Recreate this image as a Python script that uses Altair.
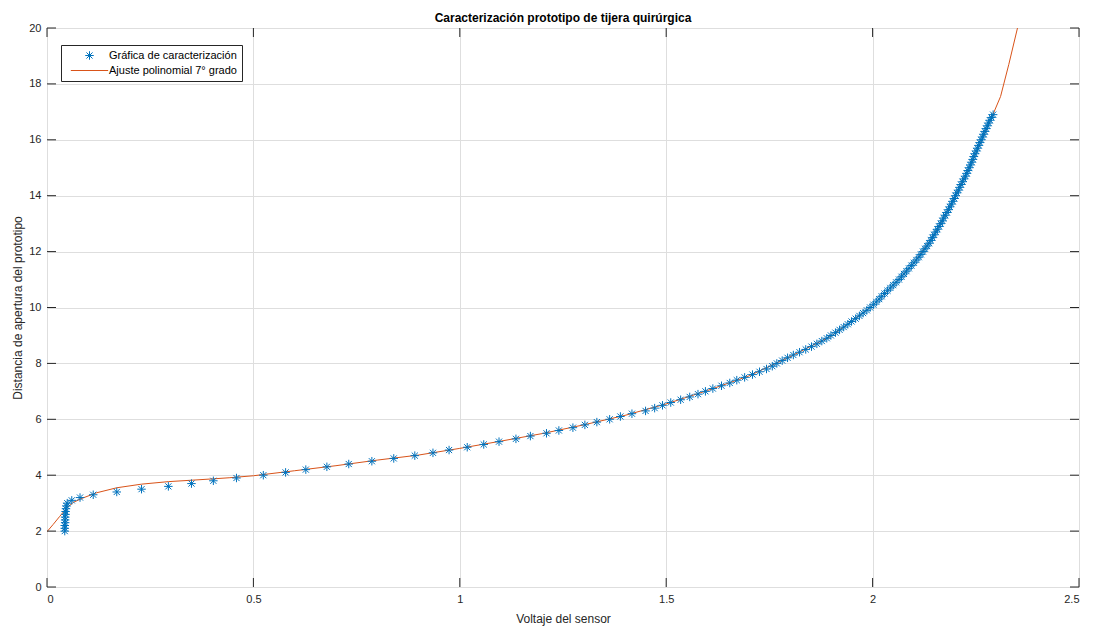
import altair as alt
import pandas as pd

# ---- data ----
sensor_v = [
    0.043, 0.043, 0.043, 0.044, 0.044, 0.044, 0.045, 0.045, 0.046, 0.047,
    0.049, 0.060, 0.080, 0.112, 0.169, 0.229, 0.294, 0.350, 0.403, 0.459,
    0.524, 0.578, 0.627, 0.678, 0.731, 0.787, 0.840, 0.891, 0.935, 0.974,
    1.018, 1.058, 1.095, 1.136, 1.171, 1.210, 1.240, 1.274, 1.303, 1.332,
    1.363, 1.389, 1.417, 1.450, 1.472, 1.491, 1.511, 1.535, 1.557, 1.577,
    1.595, 1.613, 1.634, 1.654, 1.671, 1.690, 1.709, 1.726, 1.743, 1.757,
    1.768, 1.781, 1.794, 1.808, 1.823, 1.838, 1.852, 1.865, 1.877, 1.889,
    1.899, 1.910, 1.920, 1.930, 1.940, 1.949, 1.959, 1.968, 1.977, 1.986,
    1.994, 2.002, 2.009, 2.016, 2.022, 2.029, 2.036, 2.043, 2.050, 2.057,
    2.064, 2.070, 2.076, 2.082, 2.088, 2.094, 2.100, 2.106, 2.112, 2.117,
    2.122, 2.127, 2.132, 2.137, 2.141, 2.145, 2.149, 2.153, 2.157, 2.161,
    2.165, 2.169, 2.172, 2.176, 2.180, 2.184, 2.187, 2.191, 2.194, 2.198,
    2.201, 2.204, 2.208, 2.211, 2.214, 2.218, 2.221, 2.225, 2.228, 2.231,
    2.234, 2.237, 2.240, 2.243, 2.245, 2.248, 2.251, 2.254, 2.257, 2.260,
    2.263, 2.266, 2.269, 2.272, 2.275, 2.278, 2.281, 2.284, 2.288, 2.292,
]
apertura = [
    2.0, 2.1, 2.2, 2.3, 2.4, 2.5, 2.6, 2.7, 2.8, 2.9,
    3.0, 3.1, 3.2, 3.3, 3.4, 3.5, 3.6, 3.7, 3.8, 3.9,
    4.0, 4.1, 4.2, 4.3, 4.4, 4.5, 4.6, 4.7, 4.8, 4.9,
    5.0, 5.1, 5.2, 5.3, 5.4, 5.5, 5.6, 5.7, 5.8, 5.9,
    6.0, 6.1, 6.2, 6.3, 6.4, 6.5, 6.6, 6.7, 6.8, 6.9,
    7.0, 7.1, 7.2, 7.3, 7.4, 7.5, 7.6, 7.7, 7.8, 7.9,
    8.0, 8.1, 8.2, 8.3, 8.4, 8.5, 8.6, 8.7, 8.8, 8.9,
    9.0, 9.1, 9.2, 9.3, 9.4, 9.5, 9.6, 9.7, 9.8, 9.9,
    10.0, 10.1, 10.2, 10.3, 10.4, 10.5, 10.6, 10.7, 10.8, 10.9,
    11.0, 11.1, 11.2, 11.3, 11.4, 11.5, 11.6, 11.7, 11.8, 11.9,
    12.0, 12.1, 12.2, 12.3, 12.4, 12.5, 12.6, 12.7, 12.8, 12.9,
    13.0, 13.1, 13.2, 13.3, 13.4, 13.5, 13.6, 13.7, 13.8, 13.9,
    14.0, 14.1, 14.2, 14.3, 14.4, 14.5, 14.6, 14.7, 14.8, 14.9,
    15.0, 15.1, 15.2, 15.3, 15.4, 15.5, 15.6, 15.7, 15.8, 15.9,
    16.0, 16.1, 16.2, 16.3, 16.4, 16.5, 16.6, 16.7, 16.8, 16.9,
]

fit_v = [0.0, 0.015, 0.031, 0.048, 0.064, 0.088, 0.120, 0.169, 0.229, 0.294,
         0.350, 0.403, 0.443, 0.5, 0.6, 0.7, 0.8, 0.9, 1.0, 1.1, 1.2, 1.3,
         1.4, 1.5, 1.6, 1.7, 1.8, 1.9, 2.0, 2.05, 2.1, 2.15, 2.2, 2.25,
         2.29, 2.31, 2.33, 2.351]
fit_d = [1.98, 2.24, 2.53, 2.83, 3.03, 3.19, 3.37, 3.55, 3.68, 3.77,
         3.82, 3.87, 3.91, 3.98, 4.16, 4.34, 4.54, 4.72, 4.96, 5.22, 5.49, 5.80,
         6.14, 6.55, 7.03, 7.55, 8.24, 8.98, 10.07, 10.80, 11.60, 12.62, 13.97, 15.50,
         16.85, 17.55, 18.70, 20.0]

x_ticks = [0, 0.5, 1, 1.5, 2, 2.5]
y_ticks = [0, 2, 4, 6, 8, 10, 12, 14, 16, 18, 20]

S1 = "Gráfica de caracterización"
S2 = "Ajuste polinomial 7° grado"

pts = pd.DataFrame({"v": sensor_v, "d": apertura, "serie": S1})
fit = pd.DataFrame({"v": fit_v, "d": fit_d, "serie": S2})
xt = pd.DataFrame({"t": x_ticks})
yt = pd.DataFrame({"t": y_ticks})

W, H = 1032, 559
TXT = "#262626"
FONT = "Liberation Sans"
TL = 9

ASTER = "M-1,0L1,0M0,-1L0,1M-0.72,-0.72L0.72,0.72M-0.72,0.72L0.72,-0.72"
LINESYM = "M-4.4,0L4.4,0"

xscale = alt.Scale(domain=[0, 2.5], nice=False, zero=False)
yscale = alt.Scale(domain=[0, 20], nice=False, zero=False)

xaxis = alt.Axis(values=x_ticks, title="Voltaje del sensor", grid=True,
                 gridColor="#dedede", gridWidth=1, ticks=False, domain=False,
                 labelExpr="'' + datum.value", labelFontSize=11, labelColor=TXT,
                 labelFont=FONT, labelPadding=6, titleFont=FONT, titleFontSize=12,
                 titleFontWeight="normal", titleColor=TXT, titlePadding=9)
yaxis = alt.Axis(values=y_ticks, title="Distancia de apertura del prototipo", grid=True,
                 gridColor="#dedede", gridWidth=1, ticks=False, domain=False,
                 labelExpr="'' + datum.value", labelFontSize=11, labelColor=TXT,
                 labelFont=FONT, labelPadding=6, titleFont=FONT, titleFontSize=12,
                 titleFontWeight="normal", titleColor=TXT, titlePadding=4)

legend = alt.Legend(title=None, orient="none", legendX=14, legendY=17,
                    labelFont=FONT, labelFontSize=11, labelColor="#000000",
                    strokeColor=TXT, fillColor="white", padding=5,
                    rowPadding=2, symbolSize=72, symbolStrokeWidth=1,
                    symbolOffset=18, labelOffset=14, labelLimit=400)

color = alt.Color("serie:N", scale=alt.Scale(domain=[S1, S2], range=["#0072BD", "#D95319"]),
                  legend=legend)
shape = alt.Shape("serie:N", scale=alt.Scale(domain=[S1, S2], range=[ASTER, LINESYM]),
                  legend=legend)

line = alt.Chart(fit).mark_line(strokeWidth=1, clip=True).encode(
    x=alt.X("v:Q", scale=xscale, axis=xaxis),
    y=alt.Y("d:Q", scale=yscale, axis=yaxis),
    color=color,
)

points = alt.Chart(pts).mark_point(filled=False, strokeWidth=1, size=72, opacity=1).encode(
    x=alt.X("v:Q", scale=xscale, axis=xaxis),
    y=alt.Y("d:Q", scale=yscale, axis=yaxis),
    color=color,
    shape=shape,
)

tick_style = dict(color=TXT, strokeWidth=1)
xt_bot = alt.Chart(xt).mark_rule(**tick_style).encode(
    x=alt.X("t:Q", scale=xscale), y=alt.value(H), y2=alt.value(H - TL))
xt_top = alt.Chart(xt).mark_rule(**tick_style).encode(
    x=alt.X("t:Q", scale=xscale), y=alt.value(0), y2=alt.value(TL))
yt_left = alt.Chart(yt).mark_rule(**tick_style).encode(
    y=alt.Y("t:Q", scale=yscale), x=alt.value(0), x2=alt.value(TL))
yt_right = alt.Chart(yt).mark_rule(**tick_style).encode(
    y=alt.Y("t:Q", scale=yscale), x=alt.value(W - TL), x2=alt.value(W))

chart = alt.layer(line, points, xt_bot, xt_top, yt_left, yt_right).properties(
    width=W, height=H,
    title=alt.TitleParams("Caracterización prototipo de tijera quirúrgica",
                          font=FONT, fontSize=12, fontWeight="bold", color="#000000",
                          anchor="middle", offset=-3),
    autosize=alt.AutoSizeParams(type="none"),
    padding={"left": 39, "top": 20, "right": 7, "bottom": 40},
).configure_view(stroke=TXT, strokeWidth=1).configure(background="white")

chart.save("out.html", embed_options={"renderer": "svg", "actions": False})
